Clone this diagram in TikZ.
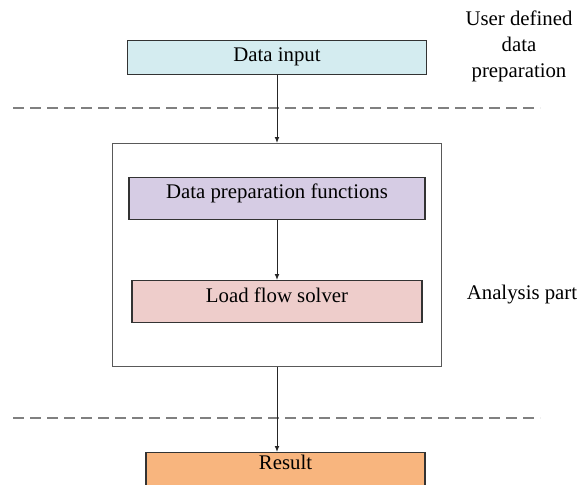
\documentclass[tikz,border=0pt]{standalone}
\usepackage{fontspec}
\setmainfont{Liberation Serif}
\usetikzlibrary{arrows.meta}
\definecolor{input-blue}{HTML}{D4ECF0}
\definecolor{prep-purple}{HTML}{D6CCE4}
\definecolor{solver-pink}{HTML}{EECDCB}
\definecolor{result-orange}{HTML}{F8B57E}
\tikzset{
    step-box/.style = {draw=black!80, line width=0.7pt, rectangle, inner sep=0pt, anchor=north, font=\fontsize{10.4pt}{12pt}\selectfont},
    frame-box/.style = {draw=black!65, line width=0.7pt, rectangle, inner sep=0pt, anchor=north, minimum width=164.5pt, minimum height=111.5pt},
    side-label/.style = {align=center, font=\fontsize{10.4pt}{13pt}\selectfont},
    divider/.style = {draw=black!50, line width=1pt, dash pattern=on 5.5pt off 3pt},
    flow-arrow/.style = {draw=black!85, line width=0.5pt, -{Latex[length=3pt,width=2.4pt]}},
}
\begin{document}
\begin{tikzpicture}[x=0.5pt, y=-0.5pt]
\useasboundingbox (0,0) rectangle (577,484);
\begin{scope}
\clip (0,0) rectangle (577,484);
\node [step-box, fill=input-blue, minimum width=149.5pt, text height=10.5pt, text depth=6.5pt] (datain) at (277,40) {Data input};
\node [frame-box] (frame) at (277,143) {};
\node [step-box, fill=prep-purple, minimum width=148pt, text height=10.5pt, text depth=10.5pt] (prep) at (277,177) {Data preparation functions};
\node [step-box, fill=solver-pink, minimum width=145pt, text height=11pt, text depth=10pt] (solver) at (277,280) {Load flow solver};
\node [step-box, fill=result-orange, minimum width=139.5pt, text height=8.5pt, text depth=12pt] (result) at (285.5,452) {Result};
\end{scope}
% dashed separators
\coordinate (cut1-l) at (13,108);
\coordinate (cut1-r) at (540,108);
\coordinate (cut2-l) at (13,418);
\coordinate (cut2-r) at (540,418);
\draw [divider] (cut1-l) -- (cut1-r);
\draw [divider] (cut2-l) -- (cut2-r);
\draw [flow-arrow] (datain) -- (frame);
\draw [flow-arrow] (prep) -- (solver);
\draw [flow-arrow] (frame.south) -- (frame.south |- result.north);
\node [side-label] (user-lbl) at (519,46) {User defined\\data\\preparation};
\node [side-label] (analysis-lbl) at (522,295) {Analysis part};
\end{tikzpicture}
\end{document}
